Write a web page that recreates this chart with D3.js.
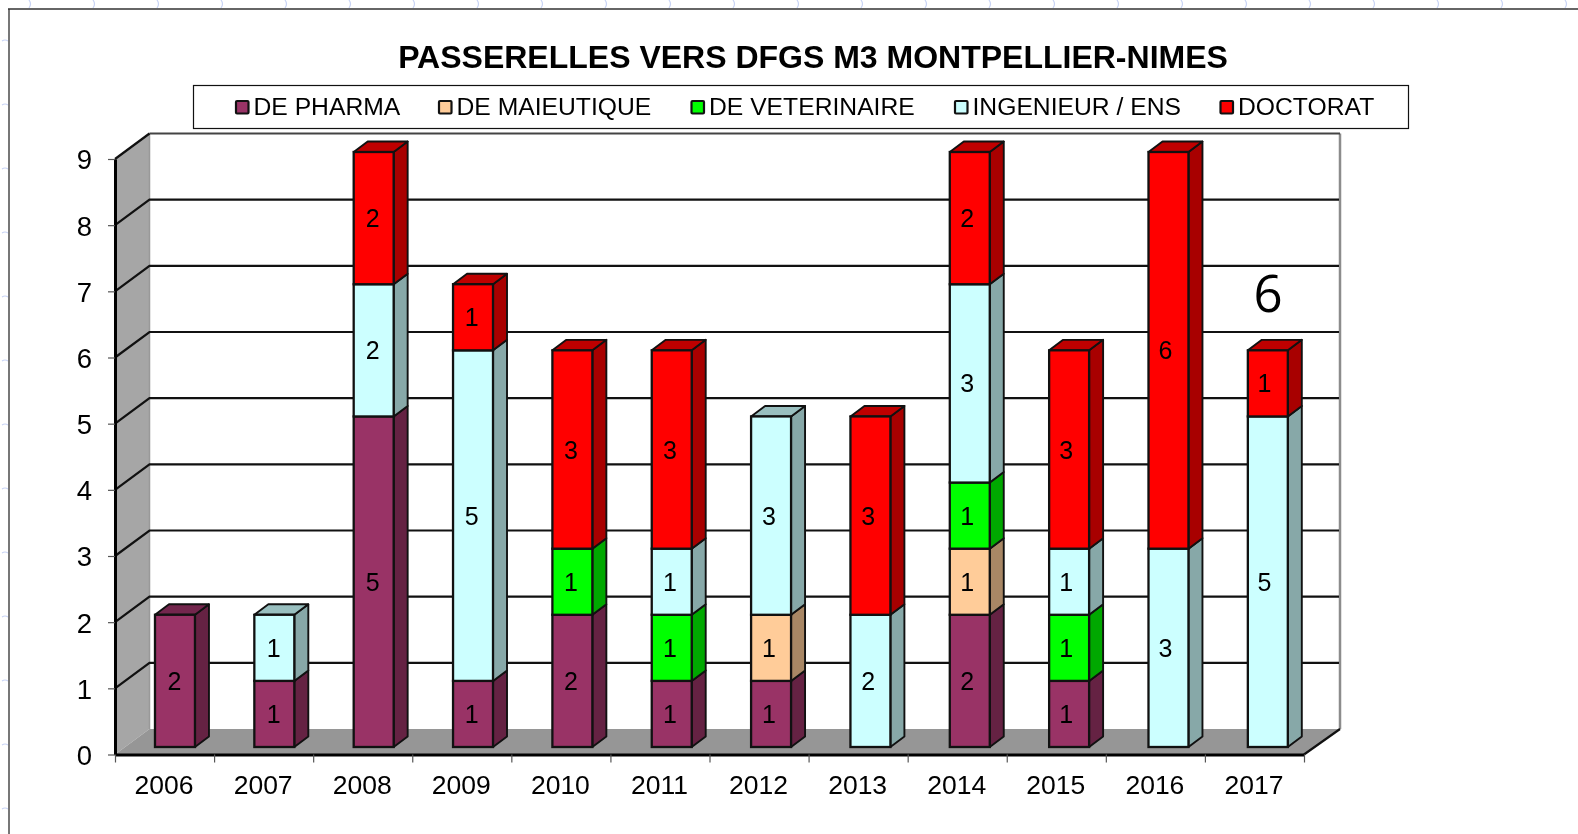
<!DOCTYPE html>
<html>
<head>
<meta charset="utf-8">
<script src="https://d3js.org/d3.v7.min.js"></script>
<style>
    html, body {
        margin: 0;
        background-color: white;
    }

    /* the original is an upscaled screenshot, a touch of softness matches it */
    svg {
        display: block;
        filter: blur(0.45px);
    }

    text {
        font-family: "Liberation Sans", Arial, sans-serif;
        fill: black;
    }
</style>
</head>
<body>
<script>

    // DATA
    const years = ["2006", "2007", "2008", "2009", "2010", "2011", "2012", "2013", "2014", "2015", "2016", "2017"];
    const seriesNames = ["DE PHARMA", "DE MAIEUTIQUE", "DE VETERINAIRE", "INGENIEUR / ENS", "DOCTORAT"];

    const pharma     = [2, 1, 5, 1, 2, 1, 1, 0, 2, 1, 0, 0];
    const maieutique = [0, 0, 0, 0, 0, 0, 1, 0, 1, 0, 0, 0];
    const veterinary = [0, 0, 0, 0, 1, 1, 0, 0, 1, 1, 0, 0];
    const engineer   = [0, 1, 2, 5, 0, 1, 3, 2, 3, 1, 3, 5];
    const doctorate  = [0, 0, 2, 1, 3, 3, 0, 3, 2, 3, 6, 1];

    const yTicks = [0, 1, 2, 3, 4, 5, 6, 7, 8, 9];
    const chartTitle = "PASSERELLES VERS DFGS M3 MONTPELLIER-NIMES";
    const looseNote = "6";

    // DESIGN CONSTANTS
    const width  = 1578;
    const height = 834;
    const palette = ["#993366", "#FFCC99", "#00FF00", "#CCFFFF", "#FF0000"];

    // the chart is a fake 3D box: front plane + a shift towards the back wall
    const FRONT_LEFT = 115, FRONT_RIGHT = 1304;
    const FRONT_Y0 = 754.5, FRONT_Y9 = 159;
    const WALL_DX = 34.5, WALL_DY = -25.5;
    const BAR_BASE = 747, BAR_TOP9 = 152;
    const BAR_DX = 14, BAR_DY = -10.5;

    const svg = d3.select("body").append("svg")
        .attr("width", width)
        .attr("height", height);

    const color = d3.scaleOrdinal(seriesNames, palette);
    const shade = (c, k) => {
        const r = d3.rgb(c);
        return d3.rgb(r.r * k, r.g * k, r.b * k).formatHex();
    };

    const yFront = d3.scaleLinear().domain([0, 9]).range([FRONT_Y0, FRONT_Y9]);
    const yBar   = d3.scaleLinear().domain([0, 9]).range([BAR_BASE, BAR_TOP9]);
    const xFront = d3.scaleBand().domain(years).range([FRONT_LEFT, FRONT_RIGHT]);
    const xEdges = d3.scaleLinear().domain([0, years.length]).range([FRONT_LEFT, FRONT_RIGHT]);
    const xBar   = d3.scaleBand().domain(years).range([125.3, 1317.5])
        .paddingInner(0.5977).paddingOuter(0.29885);

    const rows = years.map((year, i) => ({
        year: year,
        "DE PHARMA": pharma[i],
        "DE MAIEUTIQUE": maieutique[i],
        "DE VETERINAIRE": veterinary[i],
        "INGENIEUR / ENS": engineer[i],
        "DOCTORAT": doctorate[i]
    }));
    const stacked = d3.stack().keys(seriesNames)(rows);

    const poly = pts => pts.map(p => p.join(",")).join(" ");

    // (1) Page furniture: pale scan marks and the frame that runs off the page
    const marks = svg.append("g").attr("stroke", "#c9d4f5").attr("fill", "none").attr("stroke-width", 1.2);
    d3.range(30, width, 64).forEach(x => {
        marks.append("path").attr("d", `M${x - 1},0 Q${x + 2},4 ${x - 1},8`);
    });
    d3.range(41, height, 64).forEach(y => {
        marks.append("path").attr("d", `M2,${y} Q5,${y - 2} 8,${y}`);
    });
    svg.append("line")
        .attr("x1", 9).attr("x2", 9).attr("y1", 9).attr("y2", height)
        .attr("stroke", "#777")
        .attr("stroke-width", 2);
    svg.append("line")
        .attr("x1", 8).attr("x2", width).attr("y1", 9).attr("y2", 9)
        .attr("stroke", "#333")
        .attr("stroke-width", 1.5);

    // (2) Title and legend
    svg.append("text")
        .attr("x", 813)
        .attr("y", 68)
        .attr("text-anchor", "middle")
        .attr("font-weight", "bold")
        .attr("font-size", 32)
        .text(chartTitle);

    svg.append("rect")
        .attr("x", 193.5).attr("y", 85.5)
        .attr("width", 1215).attr("height", 43)
        .attr("fill", "white")
        .attr("stroke", "#111")
        .attr("stroke-width", 1.2);

    const legendX = d3.scaleOrdinal(seriesNames, [235, 438, 690.5, 954, 1219.5]);
    const legend = svg.selectAll(".legend").data(seriesNames).join("g")
        .attr("class", "legend")
        .attr("transform", d => `translate(${legendX(d)} 100)`);
    legend.append("rect")
        .attr("x", 1).attr("y", 1)
        .attr("width", 12.5).attr("height", 12.5)
        .attr("rx", 1)
        .attr("fill", d => color(d))
        .attr("stroke", "#111")
        .attr("stroke-width", 2.2);
    legend.append("text")
        .attr("x", 18.5)
        .attr("y", 15)
        .attr("font-size", 24.7)
        .text(d => d);

    // (3) The box: left wall, floor, back wall lines
    const backX0 = FRONT_LEFT + WALL_DX, backX1 = FRONT_RIGHT + WALL_DX + 1.5;

    svg.append("polygon")
        .attr("points", poly([[FRONT_LEFT, yFront(0)], [FRONT_LEFT, yFront(9)],
            [backX0, yFront(9) + WALL_DY], [backX0, yFront(0) + WALL_DY]]))
        .attr("fill", "#a6a6a6");
    svg.append("polygon")
        .attr("points", poly([[FRONT_LEFT, yFront(0)], [backX0, yFront(0) + WALL_DY],
            [backX1, yFront(0) + WALL_DY], [FRONT_RIGHT, yFront(0)]]))
        .attr("fill", "#969696");

    svg.append("line")
        .attr("x1", backX0).attr("x2", backX0)
        .attr("y1", yFront(9) + WALL_DY).attr("y2", yFront(0) + WALL_DY)
        .attr("stroke", "#999").attr("stroke-width", 1.5);
    svg.append("line")
        .attr("x1", backX1).attr("x2", backX1)
        .attr("y1", yFront(9) + WALL_DY).attr("y2", yFront(0) + WALL_DY)
        .attr("stroke", "#8c8c8c").attr("stroke-width", 2.5);
    svg.append("line")
        .attr("x1", backX0).attr("x2", backX1)
        .attr("y1", yFront(9) + WALL_DY).attr("y2", yFront(9) + WALL_DY)
        .attr("stroke", "#444").attr("stroke-width", 2);

    // gridlines bend at the corner of the left wall
    svg.selectAll(".grid").data(yTicks.slice(1)).join("polyline")
        .attr("class", "grid")
        .attr("fill", "none")
        .attr("stroke", d => d === 9 ? "none" : "#111")
        .attr("stroke-width", 2.2)
        .attr("points", d => poly([[FRONT_LEFT, yFront(d)], [backX0, yFront(d) + WALL_DY], [backX1 - 1, yFront(d) + WALL_DY]]));

    svg.append("line")
        .attr("x1", FRONT_LEFT).attr("x2", backX0)
        .attr("y1", yFront(9)).attr("y2", yFront(9) + WALL_DY)
        .attr("stroke", "#111").attr("stroke-width", 2.2);

    // right edge of the floor
    svg.append("line")
        .attr("x1", FRONT_RIGHT).attr("x2", backX1)
        .attr("y1", yFront(0)).attr("y2", yFront(0) + WALL_DY)
        .attr("stroke", "#111").attr("stroke-width", 2.2);

    // (4) Axes
    const yAxis = d3.axisLeft(yFront).tickValues(yTicks).tickSize(7).tickSizeOuter(0).tickPadding(16).tickFormat(d3.format("d"));
    const yG = svg.append("g").attr("transform", `translate(${FRONT_LEFT} 0)`).call(yAxis);
    yG.select(".domain").attr("stroke", "black").attr("stroke-width", 3);
    yG.selectAll(".tick line").attr("stroke", "#555").attr("stroke-width", 1.2);
    yG.selectAll(".tick text").attr("font-size", 27.5).attr("font-family", null).attr("dy", "0.36em");

    const edgeAxis = d3.axisBottom(xEdges).tickValues(d3.range(years.length + 1)).tickSize(8).tickSizeOuter(0).tickFormat("");
    const edgeG = svg.append("g").attr("transform", `translate(0 ${FRONT_Y0})`).call(edgeAxis);
    edgeG.select(".domain").attr("stroke", "black").attr("stroke-width", 3);
    edgeG.selectAll(".tick line").attr("stroke", "#555").attr("stroke-width", 1.2);

    const xAxis = d3.axisBottom(xFront).tickSize(0).tickPadding(21);
    const xG = svg.append("g").attr("transform", `translate(0 ${FRONT_Y0})`).call(xAxis);
    xG.select(".domain").remove();
    xG.selectAll(".tick text").attr("font-size", 26.5).attr("font-family", null).attr("dx", -0.5);

    // (5) Bars, bottom segment first so upper segments sit on top
    stacked.forEach(layer => {
        const name = layer.key;
        const g = svg.append("g").attr("class", "series");
        layer.forEach((d, i) => {
            if (d[1] === d[0]) return;
            const x0 = xBar(years[i]), x1 = x0 + xBar.bandwidth();
            const yLo = yBar(d[0]), yHi = yBar(d[1]);
            const isTop = d[1] === d3.sum(seriesNames, s => rows[i][s]);

            g.append("polygon")
                .attr("points", poly([[x1, yLo], [x1, yHi], [x1 + BAR_DX, yHi + BAR_DY], [x1 + BAR_DX, yLo + BAR_DY]]))
                .attr("fill", shade(color(name), 0.66))
                .attr("stroke", "#111").attr("stroke-width", 1.9).attr("stroke-linejoin", "round");
            if (isTop) {
                g.append("polygon")
                    .attr("points", poly([[x0, yHi], [x1, yHi], [x1 + BAR_DX, yHi + BAR_DY], [x0 + BAR_DX, yHi + BAR_DY]]))
                    .attr("fill", shade(color(name), 0.75))
                    .attr("stroke", "#111").attr("stroke-width", 1.9).attr("stroke-linejoin", "round");
            }
            g.append("rect")
                .attr("x", x0).attr("y", yHi)
                .attr("width", x1 - x0).attr("height", yLo - yHi)
                .attr("fill", color(name))
                .attr("stroke", "#111").attr("stroke-width", 2.3);
        });
    });

    // (6) Value labels go last, they follow the front axis rather than the bars
    stacked.forEach(layer => {
        svg.append("g").selectAll("text").data(layer.filter(d => d[1] > d[0])).join("text")
            .attr("x", d => xFront(d.data.year) + xFront.bandwidth() / 2 + 10)
            .attr("y", d => (yBar(d[0]) + yBar(d[1])) / 2 + 9)
            .attr("text-anchor", "middle")
            .attr("font-size", 25)
            .text(d => d[1] - d[0]);
    });

    // hand-typed total over the last bar, in another font in the original
    svg.append("text")
        .attr("x", 1268)
        .attr("y", yBar(6) - 38)
        .attr("text-anchor", "middle")
        .attr("font-size", 51)
        .style("font-family", "'Open Sans', sans-serif")
        .text(looseNote);

</script>
</body>
</html>
